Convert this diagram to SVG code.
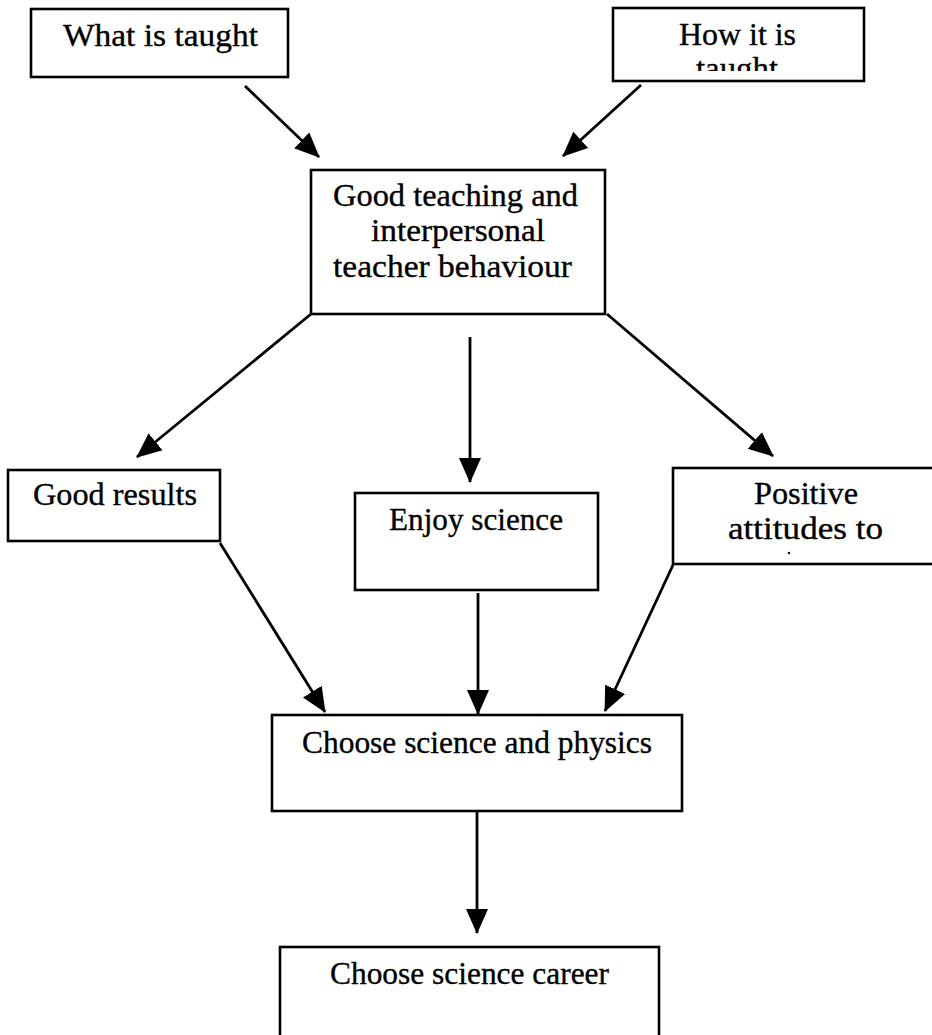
<svg xmlns="http://www.w3.org/2000/svg" width="932" height="1035" viewBox="0 0 932 1035">
<style>
.box{fill:#fff;stroke:#000;stroke-width:2.6}
.t{font-family:"Liberation Serif","Times New Roman",serif;font-size:32px;fill:#000;stroke:#000;stroke-width:0.35;text-anchor:middle}
.c{stroke:#000;stroke-width:2.8;fill:none;marker-end:url(#ah)}
</style>
<defs>
<marker id="ah" markerUnits="userSpaceOnUse" markerWidth="26" markerHeight="24" refX="24" refY="11" orient="auto" viewBox="0 0 26 22">
<path d="M0,0 L25,11 L0,22 z" fill="#000"/>
</marker>
<clipPath id="clipHow"><rect x="613" y="8" width="251" height="63"/></clipPath>
</defs>
<rect width="932" height="1035" fill="#fff"/>
<g id="connectors">
<line class="c" x1="245" y1="86" x2="319" y2="157"/>
<line class="c" x1="641" y1="85" x2="563" y2="156"/>
<line class="c" x1="311" y1="314" x2="137" y2="457"/>
<line class="c" x1="470" y1="337" x2="470" y2="482"/>
<line class="c" x1="607" y1="314" x2="773" y2="456"/>
<line class="c" x1="220" y1="543" x2="325" y2="712"/>
<line class="c" x1="478" y1="593" x2="478" y2="714"/>
<line class="c" x1="673" y1="565" x2="605" y2="711"/>
<line class="c" x1="477" y1="812" x2="477" y2="933"/>
</g>
<g id="what">
<rect class="box" x="31" y="9" width="257" height="68"/>
<text class="t" x="160.5" y="46" textLength="195" lengthAdjust="spacingAndGlyphs">What is taught</text>
</g>
<g id="how">
<rect class="box" x="613" y="8" width="251" height="73"/>
<text class="t" x="737.5" y="45" textLength="117" lengthAdjust="spacingAndGlyphs">How it is</text>
<text class="t" x="737" y="79" textLength="82" lengthAdjust="spacingAndGlyphs" clip-path="url(#clipHow)">taught</text>
</g>
<g id="good-teaching">
<rect class="box" x="311" y="170" width="294" height="144"/>
<text class="t" x="455.5" y="206" textLength="245" lengthAdjust="spacingAndGlyphs">Good teaching and</text>
<text class="t" x="458" y="241" textLength="174" lengthAdjust="spacingAndGlyphs">interpersonal</text>
<text class="t" x="452.5" y="277" textLength="239" lengthAdjust="spacingAndGlyphs">teacher behaviour</text>
</g>
<g id="good-results">
<rect class="box" x="8" y="470" width="212" height="71"/>
<text class="t" x="115" y="505" textLength="164" lengthAdjust="spacingAndGlyphs">Good results</text>
</g>
<g id="enjoy">
<rect class="box" x="355" y="493" width="243" height="97"/>
<text class="t" x="476" y="530" textLength="174" lengthAdjust="spacingAndGlyphs">Enjoy science</text>
</g>
<g id="positive">
<rect class="box" x="673" y="468" width="270" height="96"/>
<text class="t" x="806" y="504" textLength="104" lengthAdjust="spacingAndGlyphs">Positive</text>
<text class="t" x="805.5" y="539" textLength="155" lengthAdjust="spacingAndGlyphs">attitudes  to</text>
<circle cx="789" cy="553" r="1.2" fill="#000"/>
</g>
<g id="choose-physics">
<rect class="box" x="272" y="715" width="410" height="96"/>
<text class="t" x="477" y="753" textLength="350" lengthAdjust="spacingAndGlyphs">Choose science and physics</text>
</g>
<g id="career">
<rect class="box" x="280" y="947" width="379" height="100"/>
<text class="t" x="469.5" y="984" textLength="279" lengthAdjust="spacingAndGlyphs">Choose science career</text>
</g>
</svg>
